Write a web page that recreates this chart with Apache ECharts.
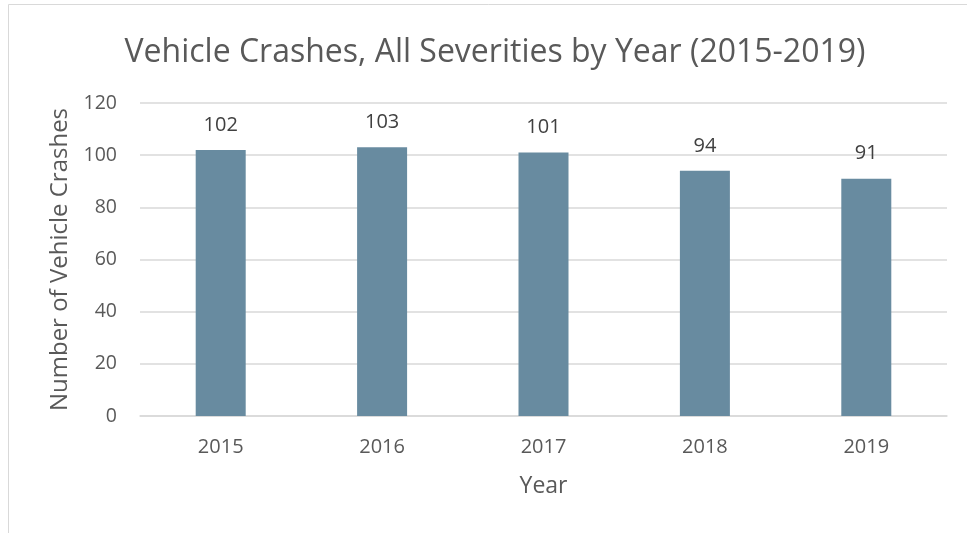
<!DOCTYPE html>
<html><head><meta charset="utf-8">
<script src="https://cdn.jsdelivr.net/npm/echarts@6/dist/echarts.min.js"></script>
<style>html,body{margin:0;padding:0;background:#fff}#c{width:967px;height:533px}</style>
</head><body><div id="c"></div>
<script>
const categories = ['2015','2016','2017','2018','2019'];
const crashes = [102,103,101,94,91];
const yTicks = [0,20,40,60,80,100,120];

const chart = echarts.init(document.getElementById('c'), null, {renderer:'canvas'});
const font = '"Open Sans", sans-serif';
chart.setOption({
  animation:false,
  backgroundColor:'#fff',
  graphic:[{type:'rect', shape:{x:8.5,y:4.5,width:1000,height:600}, style:{fill:'none', stroke:'#d9d9d9', lineWidth:1}, silent:true}],
  title:{text:'Vehicle Crashes, All Severities by Year (2015-2019)', left:490, top:32, textAlign:'center',
    textStyle:{fontFamily:font, fontSize:32, fontWeight:'normal', color:'#595959'}},
  grid:{left:140, right:20, top:103, bottom:117},
  xAxis:{type:'category', data:categories, name:'Year', nameLocation:'middle', nameGap:59,
    nameTextStyle:{fontFamily:font, fontSize:23, color:'#595959'},
    axisLine:{lineStyle:{color:'#d9d9d9', width:1.5}}, axisTick:{show:false},
    axisLabel:{fontFamily:font, fontSize:20, color:'#595959', margin:21}},
  yAxis:{type:'value', min:yTicks[0], max:yTicks[yTicks.length-1], interval:20,
    name:'Number of Vehicle Crashes', nameLocation:'middle', nameGap:66,
    nameTextStyle:{fontFamily:font, fontSize:24, color:'#595959'},
    axisLine:{show:false}, axisTick:{show:false},
    axisLabel:{fontFamily:font, fontSize:19.5, color:'#595959', margin:23},
    splitLine:{lineStyle:{color:'#d9d9d9', width:1.5}}},
  series:[{type:'bar', data:crashes, barWidth:50, itemStyle:{color:'#688ba0'},
    label:{show:true, position:'top', distance:15, fontFamily:font, fontSize:20, color:'#404040'}}]
});
</script></body></html>
